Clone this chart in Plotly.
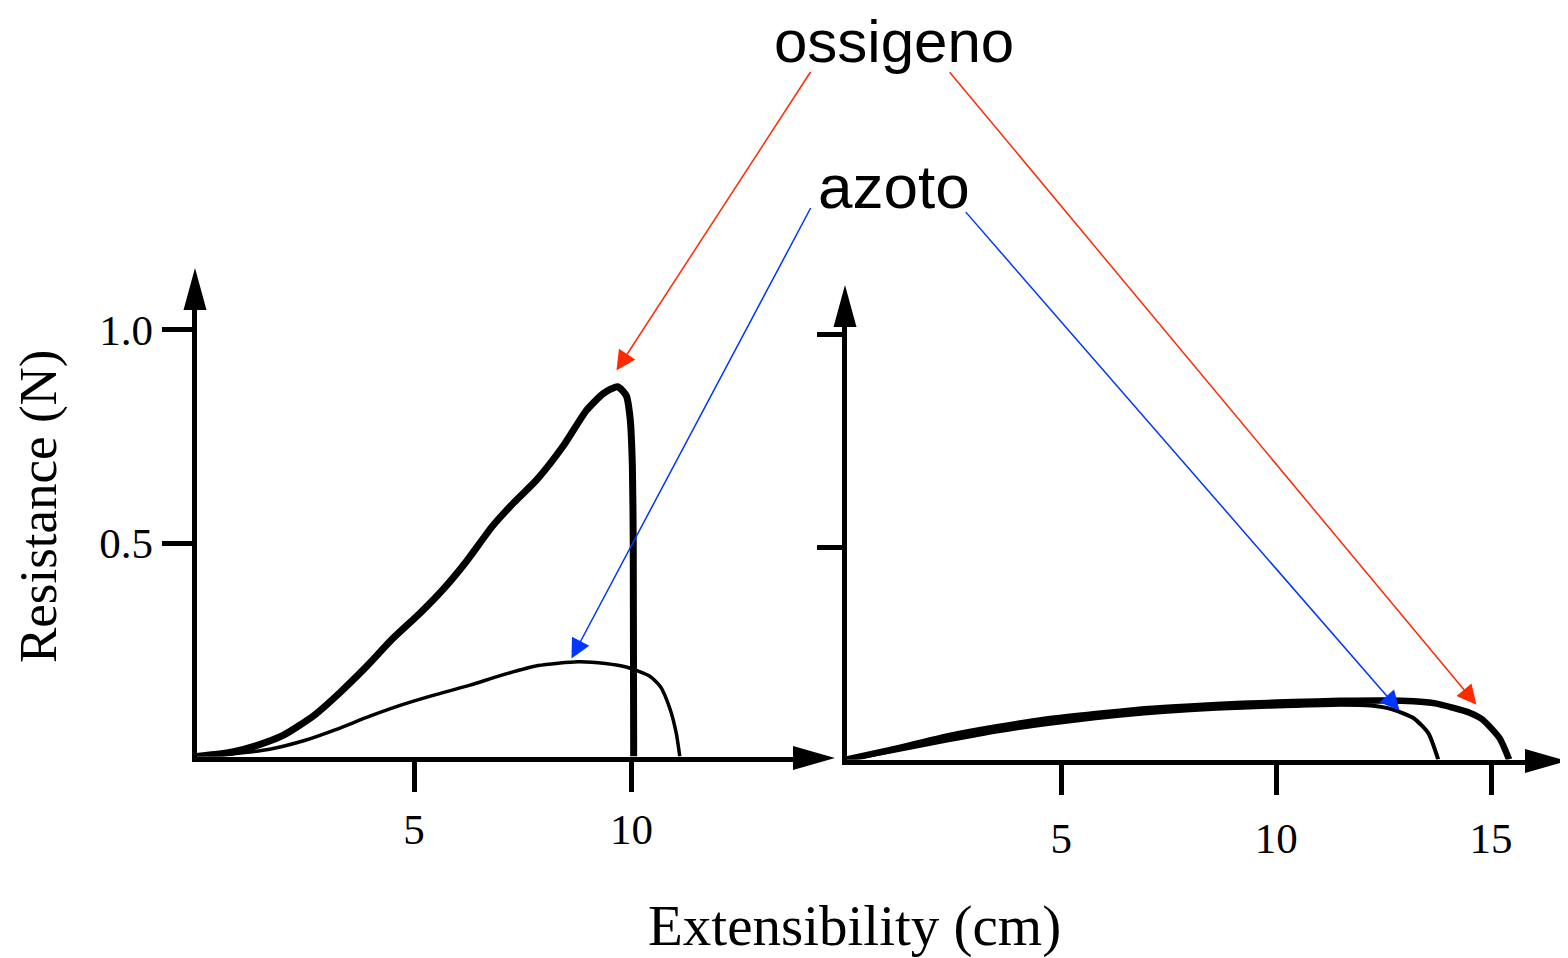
import plotly.graph_objects as go

# ---------------- data ----------------
left_ossigeno_x = [0, 0.8, 1.36, 2.0, 2.7, 3.3, 3.93, 4.5, 5.16, 5.7, 6.19, 6.8, 7.3, 7.83, 8.45, 8.96, 9.35, 9.68, 9.88, 9.97, 10.02, 10.04, 10.05]
left_ossigeno_y = [0, 0.01, 0.025, 0.05, 0.096, 0.15, 0.213, 0.275, 0.338, 0.395, 0.455, 0.539, 0.595, 0.649, 0.73, 0.81, 0.85, 0.866, 0.845, 0.79, 0.68, 0.5, 0]

left_azoto_x = [0, 0.8, 1.68, 2.5, 3.2, 4.0, 4.75, 5.5, 6.29, 7.0, 7.85, 8.77, 9.4, 9.9, 10.42, 10.67, 10.88, 11.03, 11.11]
left_azoto_y = [0, 0.006, 0.017, 0.038, 0.063, 0.095, 0.122, 0.145, 0.167, 0.19, 0.213, 0.222, 0.218, 0.209, 0.188, 0.163, 0.113, 0.054, 0]

right_ossigeno_x = [0, 1.0, 2.37, 3.5, 4.65, 5.8, 6.93, 8.0, 9.21, 10.4, 11.49, 12.5, 13.2, 13.7, 14.1, 14.5, 14.8, 15.2, 15.42]
right_ossigeno_y = [0, 0.022, 0.055, 0.076, 0.094, 0.107, 0.118, 0.125, 0.131, 0.135, 0.138, 0.139, 0.137, 0.132, 0.122, 0.11, 0.094, 0.05, 0]

right_azoto_x = [0, 1.0, 2.37, 3.5, 4.65, 5.8, 6.93, 8.0, 9.21, 10.4, 11.5, 12.2, 12.7, 13.2, 13.54, 13.77]
right_azoto_y = [0, 0.018, 0.045, 0.066, 0.083, 0.097, 0.108, 0.116, 0.122, 0.126, 0.129, 0.127, 0.118, 0.097, 0.062, 0]

left_x_ticks = [5, 10]
left_x_ticktext = ["5", "10"]
left_y_ticks = [0.5, 1.0]
left_y_ticktext = ["0.5", "1.0"]
right_x_ticks = [5, 10, 15]
right_x_ticktext = ["5", "10", "15"]
right_y_ticks = [0.5, 1.0]

label_ossigeno = "ossigeno"
label_azoto = "azoto"
x_title = "Extensibility (cm)"
y_title = "Resistance (N)"

# ---------------- layout geometry ----------------
OFF = 8                      # default page (body) margin of the html page
W, H = 1568 - OFF, 958 - OFF
SERIF = "Liberation Serif"
SANS = "Liberation Sans"
RED = "#ff2a00"
BLUE = "#0036ff"
LW = 5                       # axis line width (plotly draws it lw/2 outside the domain)

def px(x):   # screen px -> figure px
    return x - OFF

# left panel: origin px (195, 758), 43.5 px / cm, 427 px / N
L_ox, L_oy, L_ux, L_uy = px(195) + 1.5, px(758) - 1.5, 43.5, 427
L_xend, L_ytop = px(795), px(308)
# right panel: origin px (845, 761), 42.97 px / cm, 425 px / N
R_ox, R_oy, R_ux, R_uy = px(845) + 1.5, px(761) - 1.5, 42.97, 425
R_xend, R_ytop = px(1527), px(325)

fig = go.Figure()

fig.add_trace(go.Scatter(x=left_ossigeno_x, y=left_ossigeno_y, mode="lines",
                         line=dict(color="black", width=7, shape="spline", smoothing=0.6),
                         xaxis="x", yaxis="y", showlegend=False, hoverinfo="skip"))
fig.add_trace(go.Scatter(x=left_azoto_x, y=left_azoto_y, mode="lines",
                         line=dict(color="black", width=3.5, shape="spline", smoothing=0.6),
                         xaxis="x", yaxis="y", showlegend=False, hoverinfo="skip"))
fig.add_trace(go.Scatter(x=right_ossigeno_x, y=right_ossigeno_y, mode="lines",
                         line=dict(color="black", width=6.5, shape="spline", smoothing=0.6),
                         xaxis="x2", yaxis="y2", showlegend=False, hoverinfo="skip"))
fig.add_trace(go.Scatter(x=right_azoto_x, y=right_azoto_y, mode="lines",
                         line=dict(color="black", width=4, shape="spline", smoothing=0.6),
                         xaxis="x2", yaxis="y2", showlegend=False, hoverinfo="skip"))

axis_common = dict(showgrid=False, zeroline=False, showline=True, linecolor="black",
                   linewidth=LW, ticks="outside", tickcolor="black", tickwidth=5,
                   tickfont=dict(family=SERIF, size=43, color="black"), fixedrange=True)

fig.update_layout(
    width=W, height=H,
    margin=dict(l=0, r=0, t=0, b=0),
    paper_bgcolor="white", plot_bgcolor="rgba(0,0,0,0)",
    xaxis=dict(domain=[L_ox / W, L_xend / W], range=[0, (L_xend - L_ox) / L_ux],
               anchor="y", tickvals=left_x_ticks, ticktext=left_x_ticktext,
               ticklen=30, ticklabelstandoff=1, **axis_common),
    yaxis=dict(domain=[(H - L_oy) / H, (H - L_ytop) / H], range=[0, (L_oy - L_ytop) / L_uy],
               anchor="x", tickvals=left_y_ticks, ticktext=left_y_ticktext,
               ticklen=30, ticklabelstandoff=0, **axis_common),
    xaxis2=dict(domain=[R_ox / W, R_xend / W], range=[0, (R_xend - R_ox) / R_ux],
                anchor="y2", tickvals=right_x_ticks, ticktext=right_x_ticktext,
                ticklen=30, ticklabelstandoff=7, **axis_common),
    yaxis2=dict(domain=[(H - R_oy) / H, (H - R_ytop) / H], range=[0, (R_oy - R_ytop) / R_uy],
                anchor="x2", tickvals=right_y_ticks, showticklabels=False,
                ticklen=25, **axis_common),
)

# axis arrow heads (pixel-sized triangles anchored at the axis ends)
def head_x(x, y):
    return dict(type="path", xref="paper", yref="paper", xsizemode="pixel", ysizemode="pixel",
                xanchor=x / W, yanchor=(H - y) / H,
                path="M0,-12 L42,0 L0,12 Z", fillcolor="black", line=dict(width=0))

def head_y(x, y):
    return dict(type="path", xref="paper", yref="paper", xsizemode="pixel", ysizemode="pixel",
                xanchor=x / W, yanchor=(H - y) / H,
                path="M-11.5,0 L0,42 L11.5,0 Z", fillcolor="black", line=dict(width=0))

fig.update_layout(shapes=[head_x(L_xend - 2, px(758)), head_y(px(195), L_ytop + 2),
                          head_x(R_xend - 2, px(761)), head_y(px(845), R_ytop + 2)])

def text_ann(text, x, y, family, size, angle=0):
    return dict(text=text, x=px(x) / W, y=(H - px(y)) / H, xref="paper", yref="paper",
                xanchor="center", yanchor="middle", textangle=angle, showarrow=False,
                font=dict(family=family, size=size, color="black"))

annotations = [
    text_ann(label_ossigeno, 894, 42, SANS, 60),
    text_ann(label_azoto, 894, 186, SANS, 62),
    text_ann(y_title, 38, 507, SERIF, 53, -90),
    text_ann(x_title, 855, 926, SERIF, 57),
]

# pointer arrows: head on the curve (data coords), tail near the label (pixel offsets)
pointers = [
    ("x", "y", 9.655, 0.904, 810 - 615, 72 - 372, RED),
    ("x2", "y2", 14.66, 0.129, 947 - 1475, 72 - 706, RED),
    ("x", "y", 8.62, 0.2295, 810 - 570, 208 - 660, BLUE),
    ("x2", "y2", 12.87, 0.115, 963 - 1398, 212 - 712, BLUE),
]
for xr, yr, xv, yv, ax, ay, col in pointers:
    annotations.append(dict(text="", x=xv, y=yv, xref=xr, yref=yr, ax=ax, ay=ay,
                            showarrow=True, arrowhead=2, arrowsize=2.6, arrowwidth=1.5,
                            arrowcolor=col))

fig.update_layout(annotations=annotations)

fig.write_html("out.html")
